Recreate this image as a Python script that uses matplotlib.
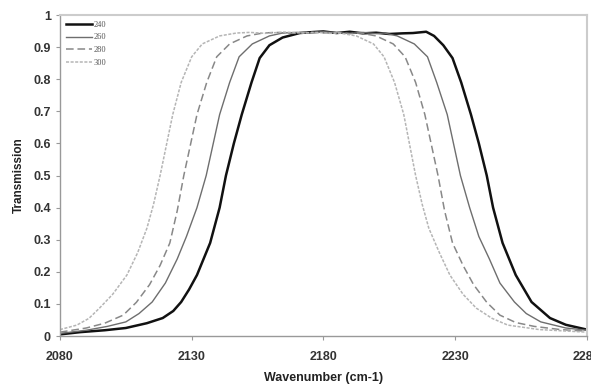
import numpy as np
import matplotlib.pyplot as plt

# values (wavenumber, transmission)
wn_240 = [2080, 2087.6, 2097, 2105, 2113, 2119, 2123, 2126, 2129, 2132, 2135, 2137, 2140.6, 2143, 2146,
          2149, 2152.7, 2155.8, 2159.5, 2164.5, 2171, 2176, 2180, 2185, 2190, 2195, 2200, 2205, 2210,
          2214, 2219, 2222, 2225.5, 2229, 2232.3, 2236, 2239, 2242, 2244.4, 2248, 2253, 2259, 2266,
          2272, 2280]
tr_240 = [0.005, 0.012, 0.018, 0.025, 0.04, 0.056, 0.078, 0.106, 0.145, 0.19, 0.25, 0.29, 0.40, 0.50, 0.60,
          0.69, 0.79, 0.866, 0.906, 0.93, 0.944, 0.947, 0.949, 0.944, 0.948, 0.943, 0.945, 0.941, 0.943,
          0.944, 0.948, 0.935, 0.906, 0.866, 0.79, 0.69, 0.60, 0.50, 0.40, 0.29, 0.19, 0.106, 0.056,
          0.035, 0.02]

wn_260 = [2080, 2090, 2098, 2105, 2110, 2115, 2120, 2124.5, 2128, 2132, 2135.5, 2140.6, 2144.4, 2148,
          2153, 2159.5, 2164.5, 2170, 2175, 2180, 2185, 2190, 2195, 2200, 2203, 2208, 2214.5, 2219.5,
          2223, 2227, 2232, 2235.5, 2239, 2243, 2247, 2252.5, 2257, 2262.5, 2272, 2280]
tr_260 = [0.008, 0.018, 0.03, 0.044, 0.07, 0.106, 0.165, 0.24, 0.31, 0.40, 0.50, 0.69, 0.79, 0.87,
          0.91, 0.935, 0.944, 0.946, 0.944, 0.948, 0.945, 0.943, 0.946, 0.942, 0.944, 0.935, 0.91, 0.87,
          0.79, 0.69, 0.50, 0.40, 0.31, 0.24, 0.165, 0.106, 0.07, 0.044, 0.025, 0.018]

wn_280 = [2080, 2090, 2097, 2104, 2109, 2114, 2118, 2121.7, 2124.5, 2127, 2132, 2135.7, 2139.5, 2144.4,
          2151, 2157, 2162, 2168, 2175, 2180, 2186, 2190, 2194, 2200, 2206.5, 2211, 2215, 2218.5,
          2223.5, 2226, 2229, 2233, 2237, 2242, 2247, 2253, 2260, 2270, 2280]
tr_280 = [0.012, 0.025, 0.04, 0.065, 0.105, 0.16, 0.22, 0.29, 0.39, 0.50, 0.69, 0.79, 0.87, 0.91,
          0.935, 0.944, 0.946, 0.943, 0.947, 0.944, 0.946, 0.942, 0.944, 0.935, 0.91, 0.87, 0.79, 0.69,
          0.50, 0.39, 0.29, 0.22, 0.16, 0.105, 0.065, 0.042, 0.03, 0.02, 0.015]

wn_300 = [2080, 2086.4, 2091, 2095, 2100, 2105.4, 2109.5, 2113, 2115.5, 2118, 2122.8, 2126, 2130, 2134,
          2140.6, 2147, 2152, 2158, 2165, 2172, 2178, 2182, 2186, 2192.5, 2199, 2203, 2207, 2210.5,
          2215, 2217.5, 2220, 2224, 2228, 2233, 2238, 2244, 2250, 2262, 2280]
tr_300 = [0.02, 0.034, 0.055, 0.087, 0.13, 0.19, 0.26, 0.336, 0.41, 0.50, 0.69, 0.79, 0.87, 0.91,
          0.935, 0.944, 0.946, 0.943, 0.947, 0.944, 0.946, 0.943, 0.944, 0.935, 0.91, 0.87, 0.79, 0.69,
          0.50, 0.41, 0.336, 0.26, 0.19, 0.13, 0.087, 0.055, 0.034, 0.02, 0.012]

x_ticks = [2080, 2130, 2180, 2230, 2280]
y_ticks = [0, 0.1, 0.2, 0.3, 0.4, 0.5, 0.6, 0.7, 0.8, 0.9, 1]

plt.rcParams['font.family'] = ['Liberation Sans', 'DejaVu Sans']

fig = plt.figure(figsize=(5.91, 3.86), dpi=100)
ax = fig.add_axes([0.1015, 0.1295, 0.8915, 0.8315])

ax.plot(wn_240, tr_240, color='#111111', lw=1.8, label='240')
ax.plot(wn_260, tr_260, color='#6e6e6e', lw=1.0, label='260')
ax.plot(wn_280, tr_280, color='#888888', lw=1.1, ls=(0, (5, 2.5)), label='280')
ax.plot(wn_300, tr_300, color='#b5b5b5', lw=1.1, ls=(0, (2, 1)), label='300')

ax.set_xlim(2080, 2280)
ax.set_ylim(0, 1)
ax.set_xticks(x_ticks)
ax.set_xticklabels([str(v) for v in x_ticks])
ax.set_yticks(y_ticks)
ax.set_yticklabels(['0'] + [f'{v:.1f}' for v in y_ticks[1:-1]] + ['1'])
ax.tick_params(labelsize=9, length=3, width=0.8, color='#999999', labelcolor='#333333')
ax.tick_params(axis='x', pad=8)
for lab in ax.get_xticklabels() + ax.get_yticklabels():
    lab.set_fontweight('bold')

for side in ['left', 'bottom']:
    ax.spines[side].set_color('#999999')
    ax.spines[side].set_linewidth(1.0)
for side in ['top', 'right']:
    ax.spines[side].set_color('#cccccc')
    ax.spines[side].set_linewidth(1.5)

ax.set_xlabel('Wavenumber (cm-1)', fontsize=9, fontweight='bold', color='#222222', labelpad=6)
ax.set_ylabel('Transmission', fontsize=8.5, fontweight='bold', color='#222222', labelpad=6)

leg = ax.legend(loc='upper left', frameon=False, handlelength=3.2,
                handletextpad=0.1, labelspacing=0.55, borderaxespad=0.3,
                prop={'family': 'Liberation Serif', 'size': 6})
for t in leg.get_texts():
    t.set_color('#555555')

fig.savefig('out.png', dpi=100)
